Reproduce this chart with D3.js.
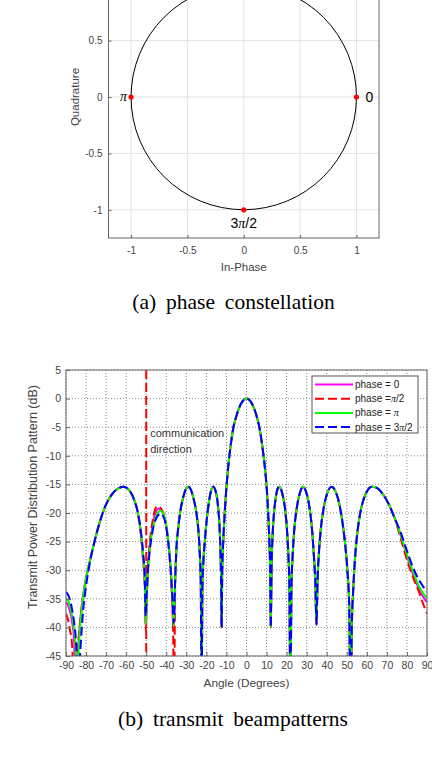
<!DOCTYPE html>
<meta charset="utf-8">
<head>
    <script src="https://d3js.org/d3.v7.min.js"></script>
</head>
<body style="margin:0; background:#fff;">
    <div id="svg_div"></div>
</body>
<style>
    text { font-family: "Liberation Sans", Arial, sans-serif; }
    .caption { font-family: "Liberation Serif", "Times New Roman", serif; fill: #000; }
</style>
<script>

    // ---- (a) constellation data ----
    var const_points = [[1, 0], [0, 1], [-1, 0], [0, -1]];
    var const_labels = ["0", "π/2", "π", "3π/2"];
    var const_ticks = [-1, -0.5, 0, 0.5, 1];

    // ---- (b) beampattern data, [angle (deg), power (dB)] ----
    var angle_ticks = [-90, -80, -70, -60, -50, -40, -30, -20, -10, 0, 10, 20, 30, 40, 50, 60, 70, 80, 90];
    var db_ticks = [5, 0, -5, -10, -15, -20, -25, -30, -35, -40, -45];
    var comm_angle = -50;

    var series_names = ["phase = 0", "phase =π/2", "phase = π", "phase = 3π/2"];

    // left part (-90 .. -36), differs per phase
    var left_p0 = [[-90, -35.6], [-89, -36.1], [-88, -37.2], [-87, -39], [-86, -42], [-85, -52], [-84.2, -45], [-83.2, -40], [-82.2, -36.3],
        [-80.5, -32.3], [-78, -28.2], [-76, -25.3], [-74, -22.6], [-72, -20.3], [-70, -18.5], [-67, -16.7], [-64, -15.7], [-61.3, -15.4],
        [-58.5, -16], [-56, -17.7], [-54, -20.3], [-52.6, -23.7], [-51.5, -28], [-50.7, -32.5], [-50.2, -40], [-49.8, -35.5], [-49.2, -30],
        [-48.3, -26], [-47, -22.6], [-45.5, -20.1], [-43.7, -19.2], [-41.8, -19.9], [-40.2, -22], [-38.8, -25.5], [-37.7, -30],
        [-37, -35], [-36.4, -40.8]];
    var left_p90 = [[-90, -37.6], [-89, -38.6], [-88, -40.5], [-87, -43], [-86.2, -50], [-85.5, -58], [-84.6, -47], [-83.5, -41], [-82.3, -37],
        [-80.5, -32.5], [-78, -28.3], [-76, -25.3], [-74, -22.6], [-72, -20.3], [-70, -18.5], [-67, -16.7], [-64, -15.7], [-61.3, -15.4],
        [-58.5, -16], [-56, -17.7], [-54, -20.4], [-52.6, -24], [-51.5, -28.5], [-50.7, -33], [-50.2, -40.5], [-49.8, -35], [-49.2, -29.5],
        [-48.3, -25.5], [-47, -21.8], [-45.5, -19.3], [-44.3, -18.8], [-42.5, -19.3], [-40.8, -20.8], [-39.5, -23.5], [-38.3, -28],
        [-37.3, -33.5], [-36.6, -40], [-36.2, -55]];
    var left_p180 = [[-90, -34.9], [-89, -35.3], [-88, -36.3], [-87, -37.9], [-86, -40.3], [-85.2, -43.5], [-84.5, -52], [-83.8, -45], [-83, -40],
        [-82, -36.3], [-80.5, -32.3], [-78, -28.2], [-76, -25.3], [-74, -22.6], [-72, -20.3], [-70, -18.5], [-67, -16.7], [-64, -15.7],
        [-61.3, -15.4], [-58.5, -16], [-56, -17.7], [-54, -20.2], [-52.6, -23.5], [-51.5, -27.5], [-50.7, -32], [-50.2, -39.5],
        [-49.8, -36], [-49.2, -30.5], [-48.3, -26.5], [-47, -23.2], [-45.5, -21], [-43, -19.6], [-41, -20.5], [-39.7, -22.8],
        [-38.5, -26.5], [-37.5, -31], [-36.8, -35.5], [-36.3, -39.8]];
    var left_p270 = [[-90, -33.8], [-89, -34.3], [-88, -35.2], [-87, -36.8], [-86, -39], [-85, -42.5], [-84, -50], [-83.2, -46], [-82.3, -41],
        [-81.3, -36.5], [-80, -32.8], [-78, -28.5], [-76, -25.3], [-74, -22.6], [-72, -20.3], [-70, -18.5], [-67, -16.7], [-64, -15.7],
        [-61.3, -15.4], [-58.5, -16], [-56, -17.7], [-54, -20.2], [-52.6, -23.4], [-51.5, -27.2], [-50.7, -31.5], [-50.3, -38],
        [-49.8, -34.5], [-49.2, -30.5], [-48.3, -26.8], [-47, -23.5], [-45.5, -21.3], [-42.8, -20.1], [-41, -21], [-39.7, -23.2],
        [-38.5, -27], [-37.5, -31.5], [-36.8, -36], [-36.3, -39.2]];

    // common part (-35.5 .. 74), the same for all phases
    var core = [[-35.5, -31], [-34.9, -26], [-34, -22.5], [-33.2, -20.2], [-31.6, -17.3], [-30.3, -15.9], [-29.1, -15.4], [-27.9, -15.8],
        [-26.6, -17.2], [-24.9, -20.2], [-24, -23], [-23.3, -27], [-22.8, -32], [-22.4, -55], [-22, -33], [-21.5, -28.5], [-20.8, -25],
        [-19.1, -19], [-17.8, -16.3], [-16.6, -15.4], [-15.3, -16.3], [-14.2, -18.8], [-13.5, -22], [-13, -26.5], [-12.7, -31],
        [-12.4, -40], [-12.1, -30], [-11.6, -25], [-11, -20.8], [-10, -15.5], [-9, -11.5], [-8, -8.5], [-6.5, -5], [-5, -3],
        [-4, -1.9], [-2, -0.5], [0, 0], [2, -0.5], [4, -1.9], [5, -3], [6.5, -5.2], [8, -8.6], [9, -11.5], [10, -15.3], [10.8, -20],
        [11.4, -25], [11.8, -30], [12.1, -40], [12.5, -29.5], [13, -24], [13.6, -20.5], [14.5, -17.5], [15.3, -16], [16.3, -15.4],
        [17.3, -15.9], [18.3, -17.3], [19.3, -19.5], [20.2, -23], [20.9, -27.5], [21.4, -33], [21.9, -55], [22.4, -33], [23, -27.5],
        [23.8, -23], [25, -19.3], [26.6, -16.5], [28.2, -15.4], [29.8, -16.4], [31.4, -19], [32.7, -23], [33.6, -27.5], [34.3, -32],
        [34.9, -39.5], [35.4, -32], [36.1, -27], [37, -23], [38.3, -19.5], [40.2, -16.6], [42.4, -15.4], [44.6, -16.4], [46.5, -18.8],
        [48, -22], [49.2, -25.5], [50.3, -30], [51.2, -36], [51.9, -55], [52.5, -40], [53.2, -33.5], [54, -28.5], [54.8, -25],
        [56, -21.5], [57.3, -19], [59.8, -16.4], [62.5, -15.4], [65, -15.6], [68, -16.7], [71, -18.5], [74, -21]];

    // right tail (77 .. 90), differs per phase
    var right_p0 = [[77, -24], [80, -27.5], [83, -30.7], [86, -33.3], [88, -34.6], [90, -35.6]];
    var right_p90 = [[77, -24.6], [80, -28.2], [83, -31.2], [86, -33.8], [88, -35.8], [90, -37.6]];
    var right_p180 = [[77, -23.9], [80, -27.2], [83, -30.2], [86, -32.8], [88, -34], [90, -34.9]];
    var right_p270 = [[77, -23.5], [80, -26.6], [83, -29.5], [86, -31.7], [88, -32.8], [90, -33.8]];

    var series_colors = ["#ff00ff", "#ff0000", "#00ff00", "#0000ff"];
    var series_dash = [null, "9,4", null, "9,4"];

    function draw_figure() {
        let svg = d3.select("#svg_div").append("svg")
            .attr("width", 432)
            .attr("height", 762);

        let tick_color = "#444";
        let box_color = "#666";

        // ================= (a) phase constellation =================
        let xc = d3.scaleLinear().domain([-1.2, 1.2]).range([108.5, 379]);
        let yc = d3.scaleLinear().domain([-1.25, 1.25]).range([238, -44]);
        let top = svg.append("g");

        // grid
        top.selectAll(".gx").data(const_ticks).enter().append("line")
            .attr("x1", d => xc(d)).attr("x2", d => xc(d))
            .attr("y1", yc(-1.25)).attr("y2", yc(1.25))
            .attr("stroke", "#e3e3e3").attr("stroke-width", 1);
        top.selectAll(".gy").data(const_ticks).enter().append("line")
            .attr("x1", xc(-1.2)).attr("x2", xc(1.2))
            .attr("y1", d => yc(d)).attr("y2", d => yc(d))
            .attr("stroke", "#e3e3e3").attr("stroke-width", 1);

        // unit circle
        top.append("circle")
            .attr("cx", xc(0)).attr("cy", yc(0))
            .attr("r", xc(1) - xc(0))
            .attr("fill", "none").attr("stroke", "#000").attr("stroke-width", 1);

        // axes (the top of this panel is cropped, so only visible y ticks get labels)
        let y_visible = const_ticks.filter(d => yc(d) > 8);
        top.append("g")
            .attr("transform", "translate(0," + yc(-1.25) + ")")
            .call(d3.axisBottom(xc).tickValues(const_ticks).tickSize(-3).tickPadding(9).tickFormat(d => String(d)))
            .call(g => g.select(".domain").remove());
        top.append("g")
            .attr("transform", "translate(" + xc(-1.2) + ",0)")
            .call(d3.axisLeft(yc).tickValues(y_visible).tickSize(-3).tickPadding(6).tickFormat(d => String(d)))
            .call(g => g.select(".domain").remove());
        top.selectAll(".tick text").attr("font-size", "10px").attr("fill", tick_color)
            .attr("font-family", "Liberation Sans, Arial, sans-serif");
        top.selectAll(".tick line").attr("stroke", box_color);
        top.append("rect")
            .attr("x", xc(-1.2)).attr("y", yc(1.25))
            .attr("width", xc(1.2) - xc(-1.2)).attr("height", yc(-1.25) - yc(1.25))
            .attr("fill", "none").attr("stroke", box_color).attr("stroke-width", 1);

        top.append("text").attr("x", xc(0)).attr("y", 271)
            .attr("text-anchor", "middle").attr("font-size", "11.5px").attr("fill", tick_color)
            .text("In-Phase");
        top.append("text")
            .attr("transform", "translate(79," + yc(0) + ") rotate(-90)")
            .attr("text-anchor", "middle").attr("font-size", "11.5px").attr("fill", tick_color)
            .text("Quadrature");

        // constellation points
        top.selectAll(".pt").data(const_points).enter().append("circle")
            .attr("cx", d => xc(d[0])).attr("cy", d => yc(d[1]))
            .attr("r", 2.6).attr("fill", "#ff0000");

        // point labels (only those inside the visible area)
        let lab_off = [[9, 5, "start"], [0, -10, "middle"], [-4, 4, "end"], [0, 18, "middle"]];
        const_points.forEach((p, i) => {
            let ly = yc(p[1]) + lab_off[i][1];
            if (ly < 12) return;
            let t = top.append("text")
                .attr("x", xc(p[0]) + lab_off[i][0])
                .attr("y", ly)
                .attr("text-anchor", lab_off[i][2])
                .attr("font-size", "14px").attr("fill", "#000");
            add_pi_text(t, const_labels[i]);
        });

        top.append("text").attr("class", "caption")
            .attr("x", 233.5).attr("y", 309)
            .attr("text-anchor", "middle").attr("font-size", "21.5px")
            .style("word-spacing", "4.5px")
            .text("(a) phase constellation");

        // ================= (b) transmit beampatterns =================
        let xb = d3.scaleLinear().domain([-90, 90]).range([66, 427]);
        let yb = d3.scaleLinear().domain([-45, 5]).range([656, 370]);
        let bot = svg.append("g");

        bot.append("clipPath").attr("id", "clip_b")
            .append("rect")
            .attr("x", xb(-90)).attr("y", yb(5))
            .attr("width", xb(90) - xb(-90)).attr("height", yb(-45) - yb(5));

        // dotted grid
        bot.selectAll(".gx").data(angle_ticks).enter().append("line")
            .attr("x1", d => xb(d)).attr("x2", d => xb(d))
            .attr("y1", yb(5)).attr("y2", yb(-45))
            .attr("stroke", "#8a8a8a").attr("stroke-width", 1).attr("stroke-dasharray", "1,2");
        bot.selectAll(".gy").data(db_ticks).enter().append("line")
            .attr("x1", xb(-90)).attr("x2", xb(90))
            .attr("y1", d => yb(d)).attr("y2", d => yb(d))
            .attr("stroke", "#8a8a8a").attr("stroke-width", 1).attr("stroke-dasharray", "1,2");

        // communication direction
        bot.append("line")
            .attr("x1", xb(comm_angle)).attr("x2", xb(comm_angle))
            .attr("y1", yb(5)).attr("y2", yb(-45))
            .attr("stroke", "#ff0000").attr("stroke-width", 2).attr("stroke-dasharray", "9,4");
        bot.append("text").attr("x", xb(comm_angle) + 4).attr("y", 437)
            .attr("font-size", "11px").attr("fill", "#333").text("communication");
        bot.append("text").attr("x", xb(comm_angle) + 4).attr("y", 453)
            .attr("font-size", "11px").attr("fill", "#333").text("direction");

        let all_series = [
            left_p0.concat(core, right_p0),
            left_p90.concat(core, right_p90),
            left_p180.concat(core, right_p180),
            left_p270.concat(core, right_p270)
        ];

        let line = d3.line()
            .x(d => xb(d[0]))
            .y(d => yb(d[1]))
            .curve(d3.curveMonotoneX);

        let curves = bot.append("g").attr("clip-path", "url(#clip_b)");
        all_series.forEach((s, i) => {
            curves.append("path")
                .datum(s)
                .attr("d", line)
                .attr("fill", "none")
                .attr("stroke", series_colors[i])
                .attr("stroke-width", 2)
                .attr("stroke-dasharray", series_dash[i]);
        });

        // axes
        bot.append("g")
            .attr("transform", "translate(0," + yb(-45) + ")")
            .call(d3.axisBottom(xb).tickValues(angle_ticks).tickSize(-4).tickPadding(6).tickFormat(d => String(d)))
            .call(g => g.select(".domain").remove());
        bot.append("g")
            .attr("transform", "translate(" + xb(-90) + ",0)")
            .call(d3.axisLeft(yb).tickValues(db_ticks).tickSize(-4).tickPadding(5).tickFormat(d => String(d)))
            .call(g => g.select(".domain").remove());
        bot.selectAll(".tick text").attr("font-size", "10.5px").attr("fill", tick_color)
            .attr("font-family", "Liberation Sans, Arial, sans-serif");
        bot.selectAll(".tick line").attr("stroke", box_color);
        bot.append("rect")
            .attr("x", xb(-90)).attr("y", yb(5))
            .attr("width", xb(90) - xb(-90)).attr("height", yb(-45) - yb(5))
            .attr("fill", "none").attr("stroke", box_color).attr("stroke-width", 1);

        bot.append("text").attr("x", (xb(-90) + xb(90)) / 2).attr("y", 687)
            .attr("text-anchor", "middle").attr("font-size", "11.8px").attr("fill", tick_color)
            .text("Angle (Degrees)");
        bot.append("text")
            .attr("transform", "translate(37,497) rotate(-90)")
            .attr("text-anchor", "middle").attr("font-size", "12.5px").attr("fill", tick_color)
            .text("Transmit Power Distribution Pattern (dB)");

        // legend
        let lg = bot.append("g");
        lg.append("rect")
            .attr("x", 312).attr("y", 376).attr("width", 106).attr("height", 57)
            .attr("fill", "#fff").attr("stroke", "#555").attr("stroke-width", 1);
        series_names.forEach((name, i) => {
            let ly = 384.5 + i * 14.2;
            lg.append("line")
                .attr("x1", 315).attr("x2", 353)
                .attr("y1", ly).attr("y2", ly)
                .attr("stroke", series_colors[i]).attr("stroke-width", 2)
                .attr("stroke-dasharray", series_dash[i]);
            let t = lg.append("text")
                .attr("x", 355).attr("y", ly + 3.5)
                .attr("font-size", "10px").attr("fill", "#222");
            add_pi_text(t, name);
        });

        bot.append("text").attr("class", "caption")
            .attr("x", 233).attr("y", 726)
            .attr("text-anchor", "middle").attr("font-size", "21.5px")
            .style("word-spacing", "4.5px")
            .text("(b) transmit beampatterns");
    }

    // puts text with an italic pi in a text element
    function add_pi_text(t, str) {
        let parts = str.split("π");
        parts.forEach((p, i) => {
            if (i > 0) t.append("tspan").attr("font-style", "italic").attr("font-family", "Liberation Serif, serif").text("π");
            if (p.length) t.append("tspan").text(p);
        });
    }

    draw_figure();

</script>
